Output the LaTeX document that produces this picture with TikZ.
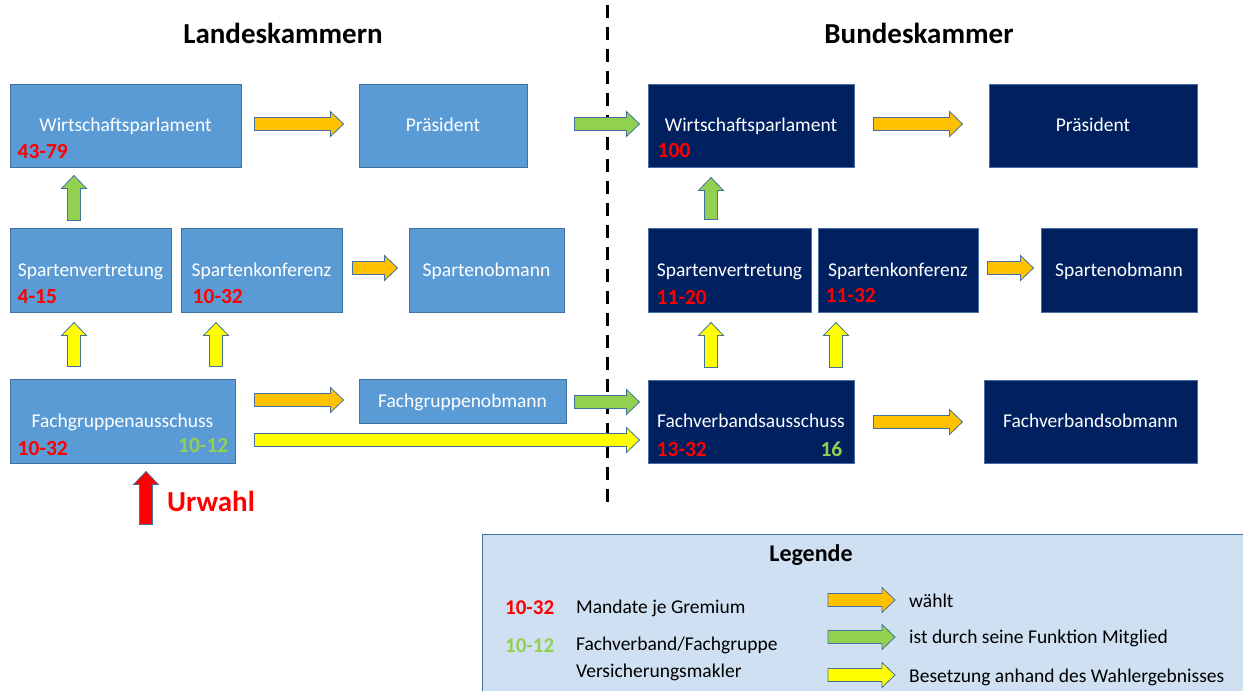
\documentclass[tikz,border=0pt]{standalone}
\usepackage{fontspec}
\setmainfont{Carlito}
\usetikzlibrary{calc}

\definecolor{lkblue}{HTML}{5B9BD5}
\definecolor{bkblue}{HTML}{002060}
\definecolor{boxline}{HTML}{41719C}
\definecolor{arrline}{HTML}{41719C}
\definecolor{arrorange}{HTML}{FFC000}
\definecolor{arrgreen}{HTML}{92D050}
\definecolor{arryellow}{HTML}{FFFF00}
\definecolor{numred}{HTML}{FF0000}
\definecolor{legfill}{HTML}{CFE0F2}

\tikzset{
  gremium/.style={draw=boxline, line width=1pt, text=white, inner sep=0pt,
    text height=17pt, text depth=5pt, font=\fontsize{19.5}{23}\selectfont},
  lk/.style={gremium, fill=lkblue},
  bk/.style={gremium, fill=bkblue},
  mandat/.style={font=\bfseries\fontsize{21.5}{24}\selectfont, text=numred, anchor=base west, inner sep=0pt},
  makler/.style={font=\bfseries\fontsize{21.5}{24}\selectfont, text=arrgreen, inner sep=0pt},
  titel/.style={font=\bfseries\fontsize{29}{32}\selectfont},
  legtext/.style={font=\fontsize{19.5}{27}\selectfont, inner sep=0pt},
  trenner/.style={line width=3pt, dash pattern=on 13pt off 9pt},
  barrow/.style={fill=#1, draw=arrline, line width=0.8pt,
    to path={let \p1=(\tikztostart), \p2=(\tikztotarget), \p3=($(\p2)!13pt!(\p1)$) in
      ($(\p1)!6.5pt!90:(\p2)$) -- ($(\p3)!6.5pt!90:(\p2)$) -- ($(\p3)!12.5pt!90:(\p2)$) -- (\p2)
      -- ($(\p3)!12.5pt!-90:(\p2)$) -- ($(\p3)!6.5pt!-90:(\p2)$) -- ($(\p1)!6.5pt!-90:(\p2)$) -- cycle}}
}

\begin{document}
\begin{tikzpicture}[x=1pt, y=-1pt]
    \useasboundingbox (0,0) rectangle (1243,691);
    \clip (0,0) rectangle (1243,691);

    % Titel
    \node[titel] (lktitel) at (283,33) {Landeskammern};
    \node[titel] (bktitel) at (919,33) {Bundeskammer};
    \draw[trenner] (607,5) -- (607,505);

    % Landeskammern
    \node[lk, minimum width=231pt, minimum height=83pt] (wpL) at (125.5,125.5) {Wirtschaftsparlament};
    \node[lk, minimum width=168pt, minimum height=83pt] (prL) at (443,125.5) {Präsident};
    \node[lk, minimum width=161pt, minimum height=84pt] (svL) at (90.5,270) {Spartenvertretung};
    \node[lk, minimum width=161pt, minimum height=84pt] (skL) at (261.5,270) {Spartenkonferenz};
    \node[lk, minimum width=155pt, minimum height=84pt] (soL) at (486.5,270) {Spartenobmann};
    \node[lk, minimum width=225pt, minimum height=84pt] (fgA) at (122.5,421) {Fachgruppenausschuss};
    \node[lk, minimum width=207pt, minimum height=44pt] (fgO) at (462.5,401) {Fachgruppenobmann};

    % Bundeskammer
    \node[bk, minimum width=206pt, minimum height=83pt] (wpR) at (751,125.5) {Wirtschaftsparlament};
    \node[bk, minimum width=208pt, minimum height=83pt] (prR) at (1093,125.5) {Präsident};
    \node[bk, minimum width=163pt, minimum height=84pt] (svR) at (729.5,270) {Spartenvertretung};
    \node[bk, minimum width=160pt, minimum height=84pt] (skR) at (898,270) {Spartenkonferenz};
    \node[bk, minimum width=156pt, minimum height=84pt] (soR) at (1119,270) {Spartenobmann};
    \node[bk, minimum width=206pt, minimum height=83pt] (fvA) at (751,421.5) {Fachverbandsausschuss};
    \node[bk, minimum width=213pt, minimum height=83pt] (foR) at (1090.5,421.5) {Fachverbandsobmann};

    % Mandate
    \node[mandat] (wpLn) at ($(wpL.south west)+(8,-9)$) {43-79};
    \node[mandat] (svLn) at ($(svL.south west)+(8,-9)$) {4-15};
    \node[mandat] (skLn) at ($(skL.south west)+(12,-9)$) {10-32};
    \node[mandat] (fgAn) at ($(fgA.south west)+(8,-8)$) {10-32};
    \node[makler, anchor=base east] (fgAm) at ($(fgA.south east)+(-7,-11)$) {10-12};
    \node[mandat] (wpRn) at ($(wpR.south west)+(10,-10)$) {100};
    \node[mandat] (svRn) at ($(svR.south west)+(9,-8)$) {11-20};
    \node[mandat] (skRn) at ($(skR.south west)+(8,-10)$) {11-32};
    \node[mandat] (fvAn) at ($(fvA.south west)+(9,-7)$) {13-32};
    \node[makler, anchor=base east] (fvAm) at ($(fvA.south east)+(-12,-7)$) {16};

    % Pfeile
    \path
    ($(wpL.east)+(13,-1.5)$) edge[barrow=arrorange] ($(prL.west)+(-15,-1.5)$)
    ($(prL.east)+(47,-1.5)$) edge[barrow=arrgreen] ($(wpR.west)+(-8,-1.5)$)
    ($(wpR.east)+(19,-1.5)$) edge[barrow=arrorange] ($(prR.west)+(-26,-1.5)$)
    ($(skL.east)+(10,-2)$) edge[barrow=arrorange] ($(soL.west)+(-11,-2)$)
    ($(skR.east)+(9,-2)$) edge[barrow=arrorange] ($(soR.west)+(-7,-2)$)
    ($(fgA.east |- fgO)+(19,-1)$) edge[barrow=arrorange] ($(fgO.west)+(-15,-1)$)
    ($(fgO.east)+(8,1)$) edge[barrow=arrgreen] ($(fgO.east -| fvA.west)+(-8,1)$)
    ($(fgA.east)+(19,19)$) edge[barrow=arryellow] ($(fgA.east -| fvA.west)+(-8,19)$)
    ($(fvA.east)+(19,0.5)$) edge[barrow=arrorange] ($(foR.west)+(-21,0.5)$)
    ($(svL.north)+(-16.5,-7)$) edge[barrow=arrgreen] ($(svL.north |- wpL.south)+(-16.5,8)$)
    ($(fgA.north -| svL.south)+(-16.5,-12)$) edge[barrow=arryellow] ($(svL.south)+(-16.5,10)$)
    ($(fgA.north -| skL.south)+(-45.5,-12)$) edge[barrow=arryellow] ($(skL.south)+(-45.5,10)$)
    ($(svR.north)+(-18.5,-8)$) edge[barrow=arrgreen] ($(svR.north |- wpR.south)+(-18.5,10)$)
    ($(fvA.north -| svR.south)+(-18.5,-12)$) edge[barrow=arryellow] ($(svR.south)+(-18.5,10)$)
    ($(fvA.north -| skR.south)+(-62,-12)$) edge[barrow=arryellow] ($(skR.south)+(-62,10)$)
    ($(fgA.south)+(23.5,61)$) edge[barrow=numred] ($(fgA.south)+(23.5,8)$);

    \node[titel, text=numred, anchor=west, inner sep=0pt] (urwahl) at (167,501) {Urwahl};

    % Legende
    \draw[draw=boxline, line width=1pt, fill=legfill] (482,534) rectangle (1260,710);
    \node[font=\bfseries\fontsize{24}{28}\selectfont] (legende) at (811,555) {Legende};
    \node[mandat, anchor=west, font=\bfseries\fontsize{21}{24}\selectfont] (lgn1) at (505,608) {10-32};
    \node[legtext, anchor=west] (lgt1) at (576,608) {Mandate je Gremium};
    \node[makler, anchor=west, font=\bfseries\fontsize{21}{24}\selectfont] (lgn2) at (505,646) {10-12};
    \node[legtext, anchor=north west, align=left] (lgt2) at (576,637) {Fachverband/Fachgruppe\\Versicherungsmakler};
    \node[legtext, anchor=west] (lgw1) at (909,601) {wählt};
    \node[legtext, anchor=west] (lgw2) at (909,638) {ist durch seine Funktion Mitglied};
    \node[legtext, anchor=west] (lgw3) at (909,677) {Besetzung anhand des Wahlergebnisses};
    \path
    ($(lgw1.west)+(-81,-1)$) edge[barrow=arrorange] ($(lgw1.west)+(-14,-1)$)
    ($(lgw2.west)+(-81,-1)$) edge[barrow=arrgreen] ($(lgw2.west)+(-14,-1)$)
    ($(lgw3.west)+(-81,-2)$) edge[barrow=arryellow] ($(lgw3.west)+(-14,-2)$);
\end{tikzpicture}
\end{document}
